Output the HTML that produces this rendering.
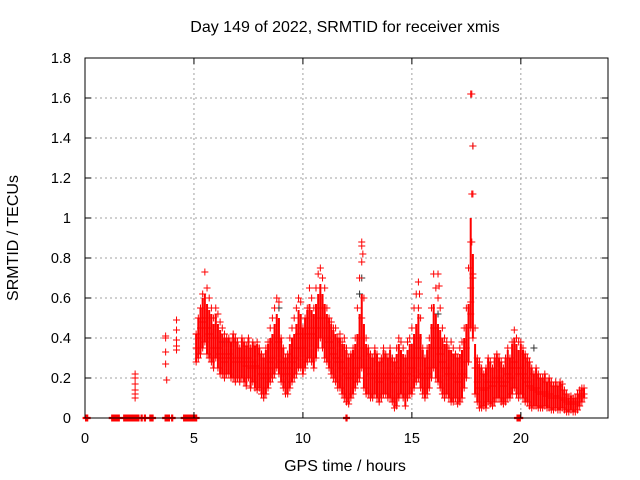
<!DOCTYPE html>
<html><head><meta charset="utf-8"><style>
body{margin:0;background:#fff}
svg{display:block;font-family:"Liberation Sans",sans-serif}
</style></head><body>
<svg id="c" width="640" height="480">
<rect width="640" height="480" fill="#fff"/>
<g id="grid"></g>
<g id="marks"></g>
<rect x="85" y="58" width="523" height="360" fill="none" stroke="#000" stroke-width="1"/>
<g id="ticks"></g>
<text x="345" y="32" text-anchor="middle" font-size="16">Day 149 of 2022, SRMTID for receiver xmis</text>
<text x="345" y="471" text-anchor="middle" font-size="16">GPS time / hours</text>
<text transform="translate(18,238) rotate(-90)" text-anchor="middle" font-size="16">SRMTID / TECUs</text>
</svg>
<script>
const xTicks=[0,5,10,15,20];
const yTicks=[0,0.2,0.4,0.6,0.8,1,1.2,1.4,1.6,1.8];
const yTickLabels=["0","0.2","0.4","0.6","0.8","1","1.2","1.4","1.6","1.8"];
const bandStart=5.1, bandStep=0.1;
const hiVals=[.42,.50,.55,.62,.73,.65,.60,.55,.50,
.55,.52,.48,.45,.42,.40,.40,.38,.42,.40,
.38,.35,.40,.38,.36,.40,.35,.38,.36,.38,
.35,.32,.30,.35,.38,.45,.50,.55,.60,.58,
.40,.35,.30,.32,.40,.45,.50,.55,.60,.58,
.45,.50,.55,.65,.60,.55,.65,.72,.75,.70,
.65,.55,.50,.48,.45,.45,.40,.42,.38,.40,
.35,.30,.32,.35,.40,.55,.70,.88,.60,.40,
.35,.32,.30,.35,.32,.28,.30,.35,.32,.30,
.35,.30,.28,.35,.40,.38,.35,.30,.38,.40,
.45,.55,.62,.68,.50,.35,.30,.35,.40,.55,
.72,.65,.60,.55,.45,.40,.38,.35,.38,.35,
.32,.30,.35,.38,.45,.55,.75,1.62,1.12,.45,
.30,.28,.25,.22,.25,.30,.28,.25,.30,.32,
.30,.28,.25,.30,.35,.30,.38,.44,.40,.38,
.38,.35,.32,.30,.28,.25,.22,.25,.22,.20,
.20,.22,.18,.20,.18,.16,.18,.16,.18,.17,
.14,.12,.10,.11,.10,.10,.12,.14,.15,.15];
const midVals=[.35,.40,.45,.48,.50,.45,.42,.40,.35,
.40,.35,.32,.30,.28,.30,.32,.30,.30,.28,
.30,.28,.30,.28,.26,.30,.25,.28,.26,.25,
.25,.22,.20,.22,.25,.28,.30,.35,.40,.38,
.28,.25,.22,.22,.25,.28,.30,.35,.42,.40,
.35,.40,.42,.45,.42,.40,.45,.50,.55,.50,
.45,.40,.38,.35,.32,.30,.28,.28,.25,.25,
.22,.20,.20,.22,.25,.30,.40,.50,.35,.25,
.25,.22,.20,.22,.20,.18,.20,.22,.22,.20,
.22,.20,.18,.20,.25,.22,.20,.18,.22,.25,
.25,.30,.35,.40,.30,.22,.20,.22,.25,.35,
.45,.40,.35,.32,.28,.25,.25,.22,.22,.20,
.20,.18,.20,.22,.28,.35,.45,.88,.70,.25,
.18,.15,.15,.14,.15,.18,.18,.16,.18,.20,
.20,.18,.16,.18,.22,.20,.25,.28,.25,.22,
.25,.22,.20,.18,.16,.15,.14,.15,.13,.12,
.12,.13,.11,.12,.10,.10,.11,.10,.10,.10,
.09,.08,.07,.08,.07,.07,.08,.10,.11,.12];
const loVals=[.28,.30,.32,.35,.38,.32,.30,.28,.25,
.30,.25,.22,.22,.20,.22,.22,.20,.20,.18,
.20,.18,.20,.18,.16,.20,.15,.18,.15,.14,
.15,.12,.10,.12,.15,.18,.20,.22,.25,.22,
.18,.15,.12,.12,.15,.18,.20,.22,.25,.25,
.22,.25,.28,.30,.28,.25,.30,.35,.40,.35,
.30,.28,.25,.22,.20,.18,.15,.15,.12,.10,
.08,.07,.10,.12,.15,.18,.20,.25,.15,.12,
.12,.10,.10,.12,.10,.08,.10,.12,.12,.10,
.10,.08,.05,.06,.10,.12,.10,.06,.10,.12,
.12,.15,.18,.20,.15,.12,.10,.12,.15,.20,
.25,.20,.18,.15,.12,.10,.12,.10,.08,.08,
.10,.07,.08,.10,.15,.20,.28,.45,.40,.12,
.08,.05,.05,.06,.05,.08,.07,.06,.08,.10,
.10,.08,.07,.08,.10,.10,.12,.15,.12,.10,
.12,.10,.08,.08,.06,.05,.06,.06,.05,.05,
.05,.06,.05,.05,.04,.04,.05,.04,.04,.05,
.04,.03,.03,.04,.03,.03,.04,.06,.08,.10];
const earlyTimes=[2.3,2.3,2.3,2.3,2.3,2.3,3.7,3.7,3.7,3.7,3.75,4.2,4.2,4.2,4.2,4.2];
const earlyVals=[.22,.2,.17,.14,.12,.10,.41,.40,.33,.27,.19,.49,.44,.39,.36,.34];
const spikeTimes=[17.75,17.75,17.75,17.8,17.8,17.7,17.7,17.7,12.7,12.75,12.7,15.35,15.3,16.2,16.25];
const spikeVals=[1.62,1.12,0.88,1.36,0.72,0.65,0.58,0.52,0.86,0.82,0.78,0.62,0.55,0.72,0.66];
const zeroTimes=[0.05,0.1,1.25,1.3,1.35,1.4,1.45,1.5,1.55,1.8,1.85,1.9,1.95,2.0,2.05,2.1,2.15,2.2,2.3,2.35,2.45,2.6,2.75,3.0,3.1,3.7,3.75,3.85,4.0,4.55,4.6,4.65,4.7,4.75,4.8,4.85,4.9,4.95,5.0,5.05,5.1,12.0,19.85,19.9,19.95];
const grayTimes=[12.6,12.7,17.8,10.2,16.2,19.3,20.6,8.9,6.3,14.1];
const grayVals=[.62,.70,1.36,.45,.52,.30,.35,.55,.38,.30];
const NS='http://www.w3.org/2000/svg';
const X=t=>85+t*(523/24), Y=v=>418-v*200;
const grid=document.getElementById('grid'), ticks=document.getElementById('ticks'), marks=document.getElementById('marks');
function el(tag,attrs,parent){const e=document.createElementNS(NS,tag);for(const k in attrs)e.setAttribute(k,attrs[k]);parent.appendChild(e);return e;}
xTicks.forEach(t=>{
  if(t>0){const g=el('line',{x1:X(t),x2:X(t),y1:58,y2:418,stroke:'#a0a0a0','stroke-dasharray':'2,3'},grid);
  
  }
  const a=el('line',{x1:X(t),x2:X(t),y1:418,y2:412,stroke:'#000'},ticks);
  
  
  el('line',{x1:X(t),x2:X(t),y1:58,y2:64,stroke:'#000'},ticks);
  const l=el('text',{x:X(t),y:443,'text-anchor':'middle','font-size':14.5},ticks);l.textContent=t;
  
  
});
yTicks.forEach((v,i)=>{
  if(v>0){const g=el('line',{x1:85,x2:608,y1:Y(v),y2:Y(v),stroke:'#a0a0a0','stroke-dasharray':'2,3'},grid);
  
  }
  el('line',{x1:85,x2:91,y1:Y(v),y2:Y(v),stroke:'#000'},ticks);
  el('line',{x1:602,x2:608,y1:Y(v),y2:Y(v),stroke:'#000'},ticks);
  const l=el('text',{x:71,y:Y(v)+5,'text-anchor':'end','font-size':14.5},ticks);l.textContent=yTickLabels[i];
  
  
});
function cross(x,y){return `M${x-3.5} ${y}h7M${x} ${y-3.5}v7`;}
let gd='';grayTimes.forEach((t,i)=>{gd+=cross(X(t),Y(grayVals[i]));});
const gp=el('path',{d:gd,stroke:'#333',fill:'none','stroke-width':1},marks);


let bd='',rd='';
hiVals.forEach((h,i)=>{const t=bandStart+bandStep*i,x=X(t);
  bd+=`M${x} ${Y(Math.min(h,midVals[i]+0.12))}V${Y(loVals[i])}`;
  rd+=cross(x,Y(h))+cross(x,Y(midVals[i]))+cross(x,Y(loVals[i]));});
earlyTimes.forEach((t,i)=>{rd+=cross(X(t),Y(earlyVals[i]));});
spikeTimes.forEach((t,i)=>{rd+=cross(X(t),Y(spikeVals[i]));});
let zd='';zeroTimes.forEach(t=>{zd+=cross(X(t),Y(0));});
const bp=el('path',{d:bd,stroke:'#f00',fill:'none','stroke-width':2},marks);


const rp=el('path',{d:rd,stroke:'#f00',fill:'none','stroke-width':1},marks);


const zp=el('path',{d:zd,stroke:'#f00',fill:'none','stroke-width':2.2},marks);


</script>
</body></html>
